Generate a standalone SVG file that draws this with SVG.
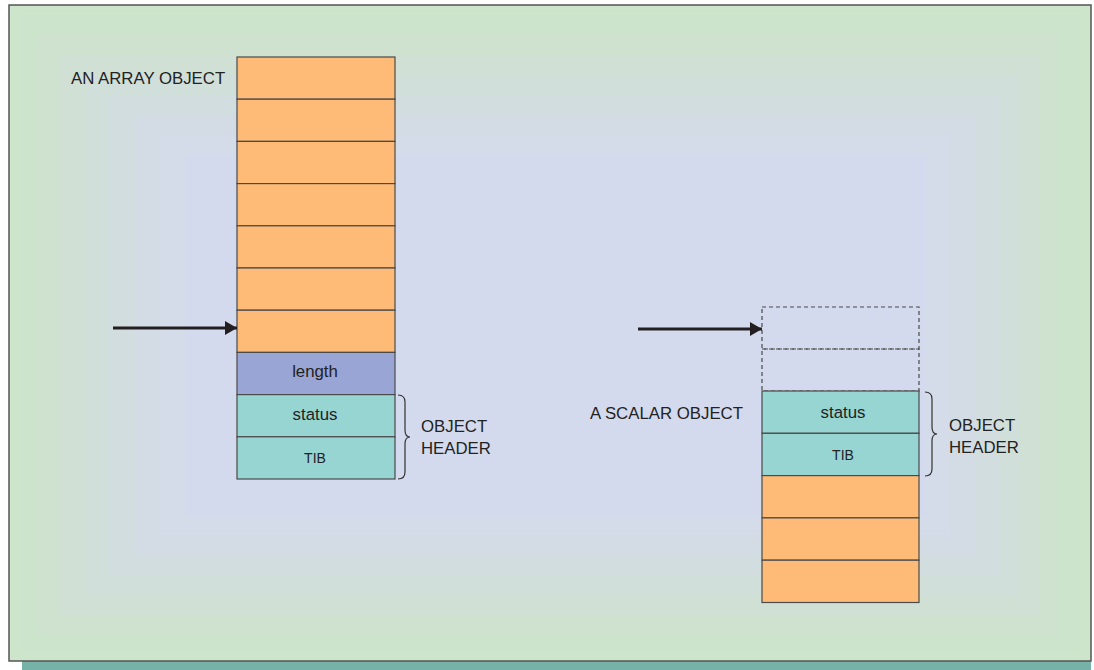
<svg xmlns="http://www.w3.org/2000/svg" width="1094" height="670" viewBox="0 0 1094 670">
<style>
.cell{stroke:#4a4a4a;stroke-width:1.2}
.or{fill:#fdbb77}
.len{fill:#99a5d4}
.hd{fill:#96d5d1}
.dash{fill:none;stroke:#4a4a4a;stroke-width:1.2;stroke-dasharray:4 3}
.t{font-family:"Liberation Sans",Arial,sans-serif;font-size:16.8px;fill:#222}
.tc{font-family:"Liberation Sans",Arial,sans-serif;font-size:16.8px;fill:#222;text-anchor:middle}
.ts{font-family:"Liberation Sans",Arial,sans-serif;font-size:14px;fill:#222;text-anchor:middle}
.arr{stroke:#231f20;stroke-width:3;fill:none}
.br{stroke:#333;stroke-width:1.2;fill:none}
</style>
<defs>
<marker id="ah" markerWidth="12" markerHeight="14" refX="12" refY="7" orient="auto" markerUnits="userSpaceOnUse">
<path d="M0,0 L12,7 L0,14 Z" fill="#231f20"/>
</marker>
</defs>
<g id="background">
<rect x="0" y="0" width="1094" height="670" fill="#ffffff"/>
<rect x="22" y="15" width="1069" height="655" fill="#76b2a8"/>
<rect x="9" y="5" width="1082" height="656" fill="#cde5cb" stroke="#555" stroke-width="1.5"/>
<rect x="20" y="15" width="1060" height="636" fill="#cde4cc"/>
<rect x="38" y="33" width="1020" height="600" fill="#cfe2d0"/>
<rect x="60" y="55" width="980" height="560" fill="#d0e0d5"/>
<rect x="85" y="75" width="935" height="520" fill="#d1dfda"/>
<rect x="110" y="95" width="890" height="480" fill="#d2dddf"/>
<rect x="135" y="115" width="840" height="440" fill="#d3dce4"/>
<rect x="160" y="135" width="790" height="400" fill="#d4dbe9"/>
<rect x="185" y="155" width="740" height="360" fill="#d4daed"/>
</g>
<g id="array-object">
<rect class="cell or" x="237" y="57" width="158" height="42.2"/>
<rect class="cell or" x="237" y="99.2" width="158" height="42.2"/>
<rect class="cell or" x="237" y="141.4" width="158" height="42.2"/>
<rect class="cell or" x="237" y="183.6" width="158" height="42.2"/>
<rect class="cell or" x="237" y="225.8" width="158" height="42.2"/>
<rect class="cell or" x="237" y="268" width="158" height="42.2"/>
<rect class="cell or" x="237" y="310.2" width="158" height="42.2"/>
<rect class="cell len" x="237" y="352.4" width="158" height="42.2"/>
<rect class="cell hd" x="237" y="394.6" width="158" height="42.2"/>
<rect class="cell hd" x="237" y="436.8" width="158" height="42.2"/>
<text class="tc" x="315" y="377">length</text>
<text class="tc" x="315" y="420">status</text>
<text class="ts" x="315" y="463">TIB</text>
<text class="t" x="71" y="84">AN ARRAY OBJECT</text>
</g>
<g id="array-header-label">
<path class="br" d="M398,395 Q405,395 405,402 L405,430 Q405,437 410,437 Q405,437 405,444 L405,472 Q405,479 398,479"/>
<text class="t" x="421" y="432">OBJECT</text>
<text class="t" x="421" y="454">HEADER</text>
</g>
<g id="scalar-object">
<rect class="dash" x="762" y="307" width="157" height="42"/>
<rect class="dash" x="762" y="349" width="157" height="42"/>
<rect class="cell hd" x="762" y="391" width="157" height="42.3"/>
<rect class="cell hd" x="762" y="433.3" width="157" height="42.3"/>
<rect class="cell or" x="762" y="475.6" width="157" height="42.3"/>
<rect class="cell or" x="762" y="517.9" width="157" height="42.3"/>
<rect class="cell or" x="762" y="560.2" width="157" height="42.3"/>
<text class="tc" x="843" y="418">status</text>
<text class="ts" x="843" y="460">TIB</text>
<text class="t" x="590" y="419">A SCALAR OBJECT</text>
</g>
<g id="scalar-header-label">
<path class="br" d="M925,392 Q932,392 932,399 L932,427 Q932,434 937,434 Q932,434 932,441 L932,469 Q932,476 925,476"/>
<text class="t" x="949" y="431">OBJECT</text>
<text class="t" x="949" y="453">HEADER</text>
</g>
<g id="connectors">
<line class="arr" x1="113" y1="328" x2="237" y2="328" marker-end="url(#ah)"/>
<line class="arr" x1="638" y1="329" x2="762" y2="329" marker-end="url(#ah)"/>
</g>
</svg>
